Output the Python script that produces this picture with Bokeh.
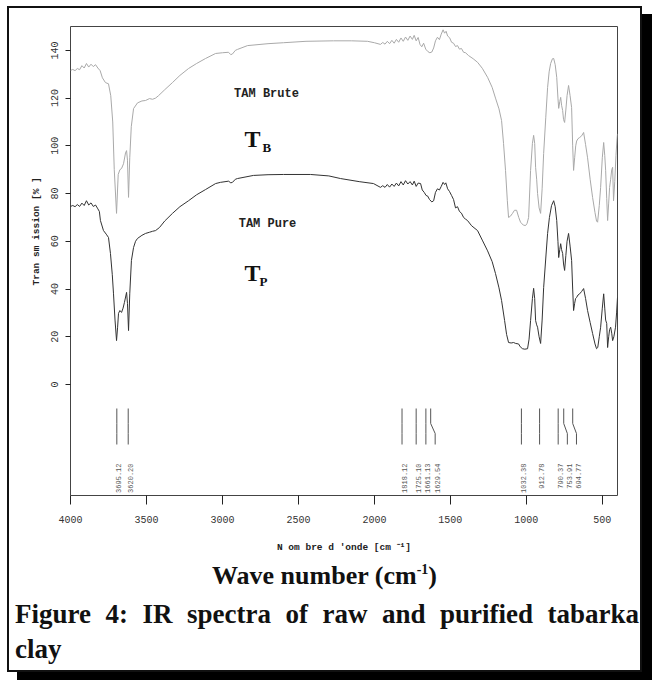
import math
from bokeh.plotting import figure
from bokeh.models import Range1d, Label, FixedTicker, Div, Title
from bokeh.layouts import column
from bokeh.core.properties import value
from bokeh.embed import file_html
from bokeh.resources import INLINE

# ---------------- data ----------------
wn_brute = [4000, 3985, 3970, 3955, 3940, 3925, 3910, 3895, 3880, 3865, 3850, 3835, 3820, 3805,
            3790, 3770, 3750, 3735, 3722, 3712, 3697, 3686, 3675, 3664, 3651, 3638, 3631, 3625,
            3618, 3610, 3600, 3585, 3559, 3530, 3506, 3480, 3460, 3440, 3421, 3380, 3329, 3280,
            3223, 3170, 3111, 3045, 3000, 2960, 2945, 2934, 2915, 2901, 2835, 2700, 2598, 2450,
            2269, 2150, 2045, 2000, 1960, 1945, 1930, 1915, 1900, 1885, 1870, 1855, 1840, 1825,
            1810, 1795, 1780, 1765, 1750, 1738, 1725, 1712, 1700, 1688, 1676, 1662, 1648, 1635,
            1622, 1610, 1598, 1585, 1572, 1560, 1548, 1538, 1528, 1518, 1505, 1492, 1479, 1466,
            1453, 1440, 1427, 1413, 1400, 1380, 1350, 1321, 1290, 1255, 1225, 1203, 1180, 1163,
            1150, 1137, 1125, 1117, 1105, 1091, 1078, 1064, 1050, 1038, 1020, 1005, 995, 985,
            972, 960, 952, 945, 939, 932, 926, 916, 906, 896, 886, 872, 860, 850, 840, 828, 820,
            810, 800, 792, 787, 780, 774, 768, 761, 755, 748, 740, 732, 722, 712, 702, 695, 689,
            682, 675, 669, 660, 649, 636, 623, 610, 597, 580, 564, 548, 538, 531, 520, 511, 500,
            491, 484, 478, 471, 465, 458, 452, 445, 438, 432, 426, 418, 410, 403, 400]
t_brute = [131.6, 132.0, 131.5, 132.4, 131.9, 133.6, 132.6, 134.5, 133.0, 134.2, 133.2, 134.0, 132.6, 131.5,
           128.5, 126.5, 126.0, 121.0, 110.0, 90.0, 71.7, 88.0, 90.0, 90.5, 92.5, 97.0, 98.0, 94.0,
           78.4, 95.0, 108.0, 115.6, 118.0, 118.8, 119.0, 119.8, 119.5, 120.0, 121.0, 123.5, 126.5, 129.5,
           132.4, 134.5, 136.6, 138.7, 139.0, 139.2, 138.2, 138.5, 140.0, 140.4, 142.0, 142.8, 143.2, 143.8,
           144.0, 144.0, 143.8, 143.2, 142.5, 143.3, 142.6, 143.8, 142.8, 144.2, 143.0, 144.6, 143.4, 145.2,
           143.8, 145.6, 144.2, 146.0, 144.6, 146.3, 144.0, 145.4, 142.5, 141.5, 143.0, 140.5, 139.5, 139.0,
           139.3, 141.0, 144.0, 145.5, 144.5, 146.8, 148.6, 147.2, 148.0, 146.0, 145.3, 143.4, 143.0, 141.6,
           142.0, 140.5, 140.8, 139.2, 139.0, 137.8, 136.5, 135.0, 132.5, 128.7, 124.5, 120.0, 115.5, 110.6,
           101.0, 89.7, 77.0, 70.0, 70.5, 71.7, 73.0, 73.0, 70.0, 68.0, 66.8, 66.6, 67.5, 70.0,
           89.7, 101.0, 104.4, 101.0, 91.0, 86.0, 80.0, 74.0, 71.7, 82.0, 96.8, 112.0, 124.5, 131.0, 134.5, 136.5, 136.6,
           134.0, 128.7, 120.0, 115.7, 118.5, 120.3, 117.0, 114.8, 111.0, 109.8, 115.0, 121.0, 125.3, 121.0, 116.0, 100.0, 89.7,
           95.0, 100.0, 102.0, 103.0, 103.5, 104.2, 105.6, 100.5, 95.0, 86.0, 78.4, 72.0, 68.5, 68.0, 75.0, 82.6, 95.0,
           101.4, 96.0, 89.7, 78.0, 68.7, 76.0, 82.6, 86.0, 90.0, 91.0, 77.0, 85.0, 96.0, 103.0, 105.0]

wn_pure = [4000, 3985, 3970, 3955, 3940, 3925, 3910, 3895, 3880, 3865, 3850, 3835, 3820, 3810,
           3803, 3783, 3765, 3750, 3737, 3725, 3717, 3707, 3697, 3690, 3684, 3675, 3664, 3654,
           3645, 3631, 3625, 3618, 3610, 3599, 3585, 3572, 3559, 3530, 3506, 3480, 3460, 3440,
           3414, 3380, 3329, 3280, 3223, 3170, 3111, 3045, 3013, 2960, 2945, 2934, 2915, 2901,
           2796, 2700, 2598, 2420, 2300, 2223, 2100, 2006, 1960, 1945, 1930, 1915, 1900, 1885,
           1870, 1855, 1840, 1825, 1810, 1795, 1780, 1765, 1750, 1738, 1725, 1712, 1696, 1685,
           1672, 1660, 1650, 1637, 1622, 1610, 1598, 1585, 1572, 1560, 1548, 1538, 1530, 1518,
           1505, 1492, 1479, 1466, 1453, 1440, 1427, 1413, 1400, 1387, 1360, 1321, 1290, 1255,
           1225, 1203, 1180, 1163, 1143, 1130, 1117, 1100, 1084, 1070, 1051, 1040, 1025, 1010,
           992, 982, 972, 960, 952, 945, 939, 932, 926, 916, 906, 896, 886, 872, 860, 848, 834,
           820, 810, 800, 792, 787, 780, 774, 768, 761, 755, 748, 740, 732, 722, 712, 702, 695,
           689, 682, 676, 669, 660, 649, 636, 623, 610, 597, 580, 564, 548, 538, 530, 520, 511,
           500, 491, 484, 478, 471, 465, 458, 452, 445, 438, 432, 424, 413, 406, 400]
t_pure = [74.6, 75.0, 74.5, 75.4, 74.6, 76.0, 75.0, 77.0, 75.2, 76.1, 74.6, 75.2, 73.6, 72.5,
          68.7, 64.5, 63.0, 61.6, 54.9, 46.0, 38.0, 27.0, 18.4, 24.0, 29.8, 31.0, 30.2, 32.0,
          34.4, 38.6, 34.0, 22.6, 38.0, 52.0, 57.4, 60.0, 61.2, 62.5, 63.3, 63.8, 64.2, 64.5,
          65.8, 68.5, 71.7, 74.5, 77.0, 79.5, 81.7, 84.2, 84.7, 85.2, 84.5, 84.7, 86.0, 86.3,
          87.6, 87.9, 88.0, 88.0, 87.4, 86.3, 85.0, 84.2, 82.6, 83.3, 82.6, 83.8, 82.7, 84.0,
          83.0, 84.4, 83.2, 85.0, 83.6, 85.4, 84.0, 85.0, 83.6, 85.2, 83.0, 84.4, 84.2, 81.5,
          80.5, 79.2, 79.0, 77.5, 76.5, 77.0, 80.5, 82.0, 81.5, 83.0, 84.7, 83.8, 84.5, 82.0,
          80.8, 79.2, 77.5, 74.0, 74.5, 72.5, 71.8, 70.0, 69.3, 68.7, 66.5, 64.5, 60.5, 56.0,
          51.5, 46.5, 40.5, 35.2, 26.8, 21.0, 17.6, 17.4, 17.6, 17.2, 17.0, 15.8, 15.0, 14.8,
          15.0, 19.0, 26.8, 36.0, 40.3, 36.0, 26.8, 25.0, 24.0, 20.0, 17.2, 27.0, 40.6, 53.0, 63.3, 70.0, 75.0,
          77.0, 74.5, 68.7, 60.0, 53.2, 56.5, 59.0, 56.5, 54.9, 50.5, 47.8, 54.0, 60.0, 63.3, 58.0, 52.0, 40.0,
          31.0, 34.0, 36.0, 36.5, 37.5, 38.0, 39.0, 40.2, 36.0, 31.0, 26.0, 21.4, 17.0, 15.0, 15.5, 20.0, 24.0,
          32.0, 38.0, 32.0, 27.0, 25.6, 15.5, 20.0, 23.0, 24.0, 21.5, 18.4, 20.0, 24.0, 30.0, 36.5]

peak_wn = [3695.12, 3620.20, 1818.12, 1725.10, 1661.13, 1629.54, 1032.38, 912.78, 790.37, 753.91, 694.77]
peak_label_wn = [3695.12, 3620.20, 1818.12, 1725.10, 1661.13, 1600.0, 1032.38, 912.78, 790.37, 730.0, 670.0]
peak_labels = ["3695.12", "3620.20", "1818.12", "1725.10", "1661.13", "1629.54",
               "1032.38", "912.78", "790.37", "753.91", "694.77"]

x_ticks = [4000, 3500, 3000, 2500, 2000, 1500, 1000, 500]
y_ticks = [0, 20, 40, 60, 80, 100, 120, 140]

# ---------------- geometry helpers (page pixels -> data) ----------------
FL, FT, FW, FH = 70, 26, 547, 469
X0, X1 = 4000, 400
Y0, Y1 = -46.5, 150


def X(px):
    return X0 + (px - FL) * (X1 - X0) / FW


def Y(py):
    return Y1 - (py - FT) * (Y1 - Y0) / FH


p = figure(frame_width=FW, frame_height=FH,
           x_range=Range1d(X0, X1), y_range=Range1d(Y0, Y1),
           output_backend="svg", toolbar_location=None,
           min_border_left=61, min_border_top=18, min_border_right=23, min_border_bottom=61)
p.background_fill_color = "white"
p.border_fill_color = "white"
p.outline_line_color = "#444"
p.outline_line_width = 1
p.xgrid.visible = False
p.ygrid.visible = False

MONO = "Liberation Mono"
SERIF = "Liberation Serif"

for ax in (p.xaxis, p.yaxis):
    ax.axis_line_color = None
    ax.minor_tick_line_color = None
    ax.major_tick_in = 0
    ax.major_tick_line_color = "#222"
    ax.major_label_text_font = MONO
    ax.major_label_text_font_size = "10px"
    ax.major_label_text_color = "#333"
    ax.axis_label_text_font = MONO
    ax.axis_label_text_font_size = "9.5px"
    ax.axis_label_text_font_style = "bold"
    ax.axis_label_text_color = "#222"

p.xaxis.ticker = FixedTicker(ticks=x_ticks)
p.xaxis.major_tick_out = 9
p.xaxis.major_label_standoff = 11
p.xaxis.axis_label = "N om bre d 'onde [cm \u207b\u00b9]"
p.xaxis.axis_label_standoff = 16

p.yaxis.ticker = FixedTicker(ticks=y_ticks)
p.yaxis.major_tick_out = 5
p.yaxis.major_label_standoff = 7
p.yaxis.major_label_orientation = "vertical"

# y-axis title, placed in the left panel (bottom end at ~y=285 on the page)
ytitle = Title(text="Tran sm ission [% ]", align="left", offset=210, standoff=11,
               vertical_align="middle", text_font=MONO, text_font_size="9.5px",
               text_font_style="bold", text_color="#222")
p.add_layout(ytitle, "left")

# spectra
p.line(wn_brute, t_brute, line_color="#a9a9a9", line_width=1)
p.line(wn_pure, t_pure, line_color="#333333", line_width=1)

# peak markers
yt, yk1, yk2, yb = Y(408), Y(423), Y(433), Y(444)
xs = [[w, w, l, l] for w, l in zip(peak_wn, peak_label_wn)]
ys = [[yt, yk1, yk2, yb] for _ in peak_wn]
p.multi_line(xs, ys, line_color="#555555", line_width=1)
p.text(x=peak_label_wn, y=[Y(463)] * len(peak_labels), text=peak_labels,
       angle=math.pi / 2, x_offset=2, text_align="right", text_baseline="middle",
       text_font=value(MONO), text_font_size="7px", text_color="#555555")


def lab(px, py, text, size, font=MONO, align="left", baseline="alphabetic", color="#111111"):
    p.add_layout(Label(x=X(px), y=Y(py), text=text, text_font=font, text_font_size=size,
                       text_font_style="bold", text_align=align,
                       text_baseline=baseline, text_color=color))


# in-plot labels
lab(266, 93, "TAM Brute", "12px", align="center", baseline="middle", color="#222")
lab(267, 223, "TAM Pure", "12px", align="center", baseline="middle", color="#222")
lab(244, 138, "T", "24px", font=SERIF)
lab(262, 147, "B", "13px", font=SERIF)
lab(244, 272, "T", "24px", font=SERIF)
lab(259, 281, "P", "13px", font=SERIF)

# caption below the plot
caption_html = (
    "<div style=\"font-family:'Liberation Serif',serif;font-weight:bold;color:#111;"
    "width:631px;margin:0;padding:0;\">"
    "<div style=\"text-align:center;font-size:26px;line-height:40px;height:40px;\">"
    "Wave number (cm<sup style=\"font-size:14px;line-height:0;\">-1</sup>)</div>"
    "<div style=\"text-align:justify;text-align-last:justify;font-size:27px;line-height:36px;"
    "height:36px;padding:0 1px 0 6px;\">Figure 4: IR spectra of raw and purified tabarka</div>"
    "<div style=\"text-align:left;font-size:27px;line-height:34px;height:34px;padding:0 0 0 6px;\">"
    "clay</div></div>"
)
div = Div(text=caption_html, width=631, height=114, margin=0)

layout = column(p, div, spacing=0)
layout.margin = (6, 0, 0, 7)
layout.styles = {"border": "2px solid #111", "box-shadow": "10px 8px 0 0 #000",
                 "background": "white"}

open("out.html", "w").write(file_html(layout, INLINE))
